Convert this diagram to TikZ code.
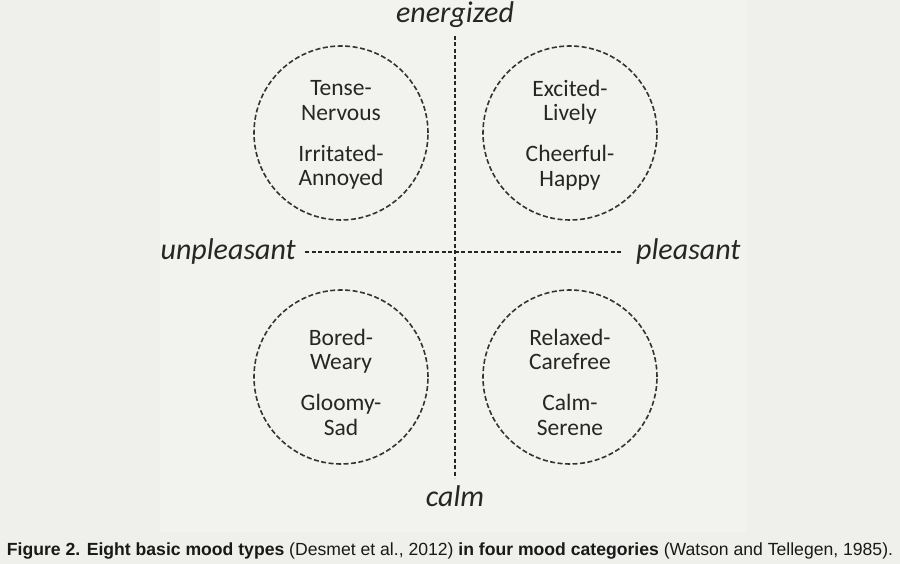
\documentclass[tikz,border=0pt]{standalone}
\usepackage{fontspec}
\setmainfont{Carlito}
\newfontfamily\capfont{Liberation Sans}
\begin{document}
\begin{tikzpicture}[x=1pt,y=-1pt,
  mood/.style={circle,draw=black!80,line width=1.6pt,dash pattern=on 5pt off 2.5pt,minimum size=174pt,inner sep=0pt},
  moodtext/.style={align=center,inner sep=0pt,font=\fontsize{23.5}{24.5}\selectfont,text=black!85},
  axis/.style={draw=black!85,line width=2.6pt,dash pattern=on 4pt off 2.5pt},
  axlabel/.style={font=\fontsize{30}{32}\selectfont\itshape,text=black!85,inner sep=0pt},
  capt/.style={font=\capfont\fontsize{17.6}{20}\selectfont,text=black!90,inner sep=0pt}]
\definecolor{bg}{HTML}{EFEFEB}
\definecolor{panel}{HTML}{F2F2EF}
\fill[bg] (0,0) rectangle (900,564);
\fill[panel] (160,0) rectangle (746,532);
\useasboundingbox (0,0) rectangle (900,564);
\coordinate (vt) at (455,36);
\coordinate (vb) at (455,478);
\coordinate (hl) at (305,252);
\coordinate (hr) at (623,252);
\draw[axis] (vt) -- (vb);
\draw[axis] (hl) -- (hr);
\node[axlabel] (en) at (455,15) {energized};
\node[axlabel] (ca) at (455,496) {calm};
\node[axlabel,anchor=east] (un) at (296,252) {unpleasant};
\node[axlabel,anchor=west] (pl) at (636,252) {pleasant};
\node[mood] (tl) at (341,133) {};
\node[mood] (tr) at (570,133) {};
\node[mood] (bl) at (341,377) {};
\node[mood] (br) at (570,377) {};
\node[moodtext] (tlt) at (341,135) {Tense-\\Nervous\\[16.5pt]Irritated-\\Annoyed};
\node[moodtext] (trt) at (570,135) {Excited-\\Lively\\[16.5pt]Cheerful-\\Happy};
\node[moodtext] (blt) at (341,382) {Bored-\\Weary\\[16.5pt]Gloomy-\\Sad};
\node[moodtext] (brt) at (570,382) {Relaxed-\\Carefree\\[16.5pt]Calm-\\Serene};
\node[capt] (cap) at (450,551) {\textbf{Figure 2. Eight basic mood types} (Desmet et al., 2012) \textbf{in four mood categories} (Watson and Tellegen, 1985).};
\end{tikzpicture}
\end{document}
